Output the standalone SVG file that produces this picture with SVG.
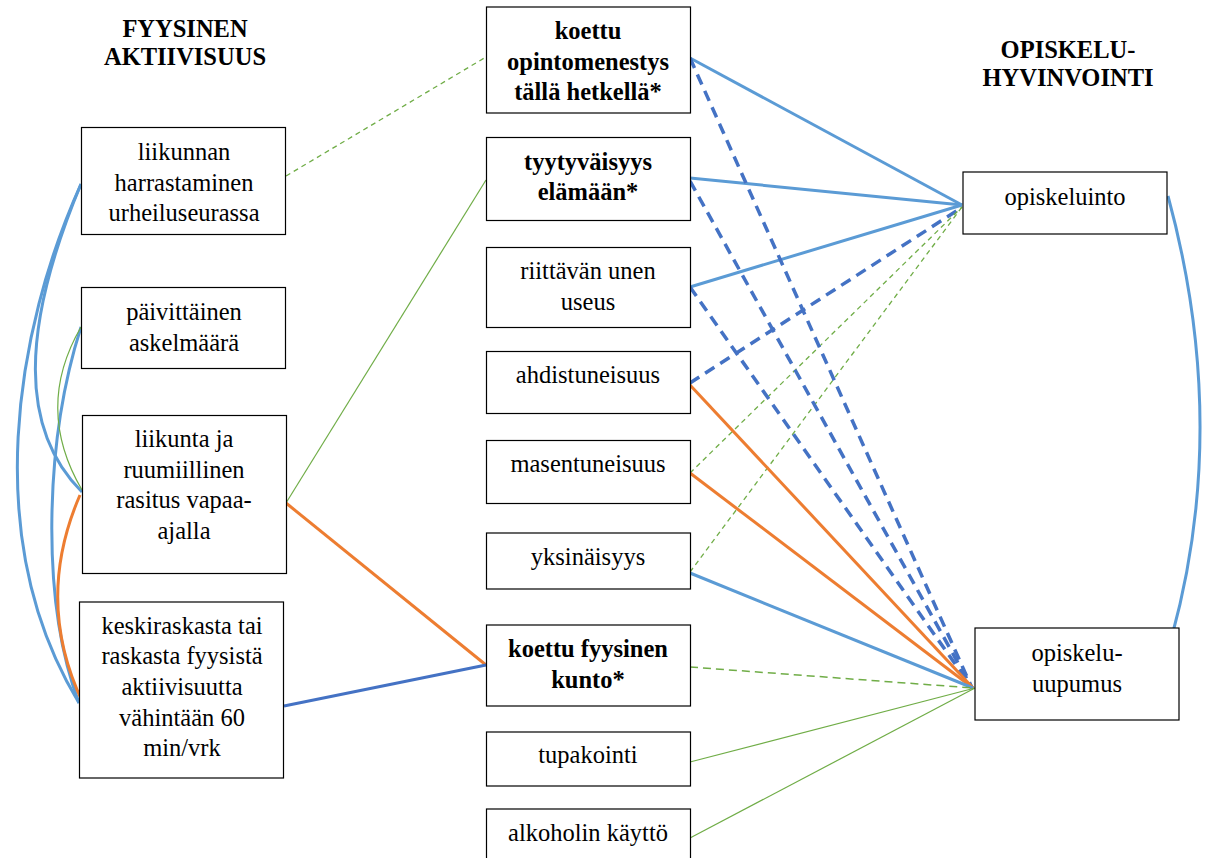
<svg xmlns="http://www.w3.org/2000/svg" width="1210" height="858" viewBox="0 0 1210 858">
<style>
.box{fill:#fff;stroke:#000;stroke-width:1.2}
text{font-family:'Liberation Serif','DejaVu Serif','Noto Serif',serif;font-size:24.5px;fill:#000;text-anchor:middle}
.b{font-weight:bold}
.lb{fill:none;stroke:#5B9BD5;stroke-width:3}
.db{fill:none;stroke:#4472C4;stroke-width:3}
.dbd{fill:none;stroke:#4472C4;stroke-width:3.5;stroke-dasharray:11 7}
.or{fill:none;stroke:#ED7D31;stroke-width:3}
.gr{fill:none;stroke:#70AD47;stroke-width:1.2}
.grd{fill:none;stroke:#70AD47;stroke-width:1.3;stroke-dasharray:5 4}
.grdl{fill:none;stroke:#70AD47;stroke-width:1.5;stroke-dasharray:8 5}
</style>
<rect width="1210" height="858" fill="#fff"/>
<g id="titles">
<text class="b" x="185" y="37">FYYSINEN</text>
<text class="b" x="185" y="65">AKTIIVISUUS</text>
<text class="b" x="1068" y="58">OPISKELU-</text>
<text class="b" x="1068" y="86">HYVINVOINTI</text>
</g>
<g id="connectors">
<path class="grd" d="M286,176 L486,57"/>
<path class="gr" d="M286,503 L486,180"/>
<path class="or" d="M286,503 L486,665"/>
<path class="db" d="M284,706 L486,665"/>
<path class="lb" d="M81,184 C20,330 20,430 82,492"/>
<path class="lb" d="M81,184 C15,330 -20,540 79,703"/>
<path class="lb" d="M81,327 C45,440 40,600 79,703"/>
<path class="gr" d="M81,327 Q34,408 82,490"/>
<path class="or" d="M80,495 Q34,601 83,703"/>
<path class="lb" d="M1168,196 Q1230,424 1172,636"/>
<path class="lb" d="M690,58 L962,205"/>
<path class="lb" d="M690,178 L962,205"/>
<path class="lb" d="M690,287 L962,205"/>
<path class="dbd" d="M690,383 L958,210"/>
<path class="grd" d="M690,473 L962,207"/>
<path class="grd" d="M690,572 L962,207"/>
<path class="dbd" d="M690,58 L972,688"/>
<path class="dbd" d="M690,181 L972,688"/>
<path class="dbd" d="M690,287 L972,688"/>
<path class="or" d="M690,385 L973,688"/>
<path class="or" d="M690,473 L973,688"/>
<path class="lb" d="M690,573 L973,688"/>
<path class="grdl" d="M690,667 L973,688"/>
<path class="gr" d="M690,762 L975,688"/>
<path class="gr" d="M690,838 L975,688"/>
</g>
<g id="n-liikunnan">
<rect class="box" x="81.5" y="127.5" width="204" height="107"/>
<text x="184" y="160">liikunnan</text>
<text x="184" y="191">harrastaminen</text>
<text x="184" y="221">urheiluseurassa</text>
</g>
<g id="n-askel">
<rect class="box" x="81.5" y="287.5" width="204" height="81"/>
<text x="184" y="320">päivittäinen</text>
<text x="184" y="351">askelmäärä</text>
</g>
<g id="n-vapaa">
<rect class="box" x="82.5" y="415.5" width="204" height="158"/>
<text x="184" y="447">liikunta ja</text>
<text x="184" y="478">ruumiillinen</text>
<text x="184" y="508">rasitus vapaa-</text>
<text x="184" y="539">ajalla</text>
</g>
<g id="n-keski">
<rect class="box" x="79.5" y="602" width="204" height="176"/>
<text x="182" y="634">keskiraskasta tai</text>
<text x="182" y="664">raskasta fyysistä</text>
<text x="182" y="695">aktiivisuutta</text>
<text x="182" y="726">vähintään 60</text>
<text x="182" y="756">min/vrk</text>
</g>
<g id="n-opintomenestys">
<rect class="box" x="486.5" y="7" width="204" height="106"/>
<text class="b" x="588" y="39">koettu</text>
<text class="b" x="588" y="70">opintomenestys</text>
<text class="b" x="588" y="100">tällä hetkellä*</text>
</g>
<g id="n-tyytyvaisyys">
<rect class="box" x="486.5" y="137.5" width="204" height="83"/>
<text class="b" x="588" y="170">tyytyväisyys</text>
<text class="b" x="588" y="200">elämään*</text>
</g>
<g id="n-uni">
<rect class="box" x="486.5" y="247.5" width="204" height="80"/>
<text x="588" y="279">riittävän unen</text>
<text x="588" y="310">useus</text>
</g>
<g id="n-ahdistuneisuus">
<rect class="box" x="486.5" y="351.5" width="204" height="62"/>
<text x="588" y="383">ahdistuneisuus</text>
</g>
<g id="n-masentuneisuus">
<rect class="box" x="486.5" y="440.5" width="204" height="63"/>
<text x="588" y="472">masentuneisuus</text>
</g>
<g id="n-yksinaisyys">
<rect class="box" x="486.5" y="533" width="204" height="56"/>
<text x="588" y="565">yksinäisyys</text>
</g>
<g id="n-kunto">
<rect class="box" x="486.5" y="625" width="204" height="81"/>
<text class="b" x="588" y="657">koettu fyysinen</text>
<text class="b" x="588" y="688">kunto*</text>
</g>
<g id="n-tupakointi">
<rect class="box" x="486.5" y="732" width="204" height="54"/>
<text x="588" y="763">tupakointi</text>
</g>
<g id="n-alkoholi">
<rect class="box" x="486.5" y="809" width="204" height="60"/>
<text x="588" y="841">alkoholin käyttö</text>
</g>
<g id="n-opiskeluinto">
<rect class="box" x="963" y="172" width="204" height="62"/>
<text x="1065" y="205">opiskeluinto</text>
</g>
<g id="n-uupumus">
<rect class="box" x="975" y="628" width="204" height="92"/>
<text x="1077" y="661">opiskelu-</text>
<text x="1077" y="692">uupumus</text>
</g>
</svg>
